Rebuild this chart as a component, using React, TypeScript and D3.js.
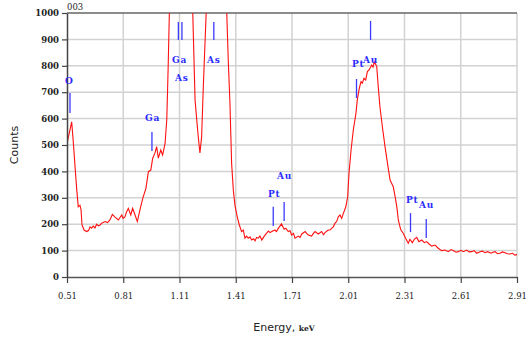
import React, { useEffect, useRef } from 'react'
import * as d3 from 'd3'

// spectrum (keV, counts); values above 1000 are clipped by the frame
const energy = [
  0.510, 0.535, 0.544, 0.553, 0.562, 0.570, 0.579, 0.585, 0.590, 0.601, 0.615, 0.625, 0.633, 0.641, 0.650, 0.659,
  0.668, 0.677, 0.686, 0.697, 0.713, 0.726, 0.739, 0.752, 0.766, 0.784, 0.802, 0.809, 0.819, 0.827, 0.837, 0.850,
  0.860, 0.873, 0.885, 0.899, 0.914, 0.931, 0.944, 0.957, 0.967, 0.979, 0.988, 0.997, 1.010, 1.020, 1.033, 1.042,
  1.046, 1.050, 1.059, 1.070, 1.113, 1.155, 1.180, 1.193, 1.202, 1.210, 1.216, 1.219, 1.228, 1.237, 1.246, 1.255,
  1.273, 1.315, 1.347, 1.362, 1.370, 1.379, 1.388, 1.397, 1.406, 1.418, 1.429, 1.441, 1.450, 1.459, 1.467, 1.477,
  1.486, 1.495, 1.505, 1.513, 1.521, 1.530, 1.539, 1.549, 1.558, 1.566, 1.584, 1.593, 1.602, 1.619, 1.627, 1.637,
  1.654, 1.668, 1.677, 1.690, 1.699, 1.708, 1.718, 1.726, 1.744, 1.753, 1.762, 1.780, 1.788, 1.797, 1.815, 1.825,
  1.833, 1.850, 1.868, 1.878, 1.886, 1.903, 1.913, 1.921, 1.930, 1.939, 1.948, 1.957, 1.966, 1.975, 1.984, 1.997,
  2.007, 2.014, 2.025, 2.037, 2.051, 2.058, 2.069, 2.078, 2.085, 2.094, 2.103, 2.112, 2.121, 2.135, 2.142, 2.149,
  2.162, 2.170, 2.179, 2.192, 2.206, 2.218, 2.233, 2.250, 2.263, 2.270, 2.277, 2.286, 2.291, 2.304, 2.316, 2.330,
  2.339, 2.352, 2.362, 2.375, 2.387, 2.402, 2.416, 2.428, 2.441, 2.455, 2.473, 2.490, 2.508, 2.526, 2.543, 2.558,
  2.570, 2.585, 2.597, 2.611, 2.624, 2.642, 2.654, 2.669, 2.681, 2.695, 2.713, 2.726, 2.739, 2.753, 2.771, 2.782,
  2.793, 2.806, 2.819, 2.833, 2.846, 2.859, 2.873, 2.886, 2.899, 2.910,
]
const counts = [
  505, 588, 507, 417, 330, 266, 272, 254, 197, 178, 172, 176, 190, 185, 193, 186,
  200, 194, 197, 205, 210, 206, 216, 237, 227, 216, 235, 222, 228, 245, 260, 235,
  260, 235, 210, 254, 298, 336, 399, 405, 450, 469, 494, 450, 481, 462, 506, 595,
  697, 810, 1100, 1300, 1500, 1300, 1020, 670, 595, 531, 490, 470, 531, 721, 886, 1050,
  1400, 1400, 1150, 1000, 822, 659, 430, 330, 270, 228, 197, 172, 178, 147, 155, 147,
  152, 140, 145, 137, 150, 147, 155, 140, 150, 159, 174, 168, 172, 178, 172, 184,
  201, 181, 185, 172, 176, 159, 165, 147, 155, 150, 163, 172, 165, 159, 155, 166,
  172, 163, 172, 160, 168, 178, 178, 184, 190, 203, 210, 228, 235, 222, 241, 266,
  304, 393, 481, 557, 620, 670, 715, 740, 734, 753, 746, 778, 784, 803, 795, 816,
  797, 721, 645, 569, 494, 437, 367, 342, 292, 260, 216, 190, 178, 165, 147, 128,
  143, 130, 143, 150, 134, 140, 130, 134, 125, 117, 121, 109, 100, 102, 96, 104,
  100, 94, 96, 101, 96, 102, 95, 96, 100, 90, 96, 98, 92, 96, 90, 94,
  96, 88, 90, 95, 92, 88, 87, 90, 83, 85,
]

const xTicks = [0.51, 0.81, 1.11, 1.41, 1.71, 2.01, 2.31, 2.61, 2.91]
const yTicks = [0, 100, 200, 300, 400, 500, 600, 700, 800, 900, 1000]

// element line markers: energy, top and bottom in counts
const markerEnergy = [0.526, 0.963, 1.104, 1.123, 1.293, 1.610, 1.668, 2.054, 2.129, 2.342, 2.426]
const markerTop = [697, 549, 966, 966, 966, 266, 284, 750, 970, 242, 220]
const markerBottom = [621, 477, 898, 898, 898, 193, 212, 678, 898, 170, 148]

// element labels: name, energy where text starts, counts at text middle
const labelText = ['O', 'Ga', 'Ga', 'As', 'As', 'Pt', 'Au', 'Pt', 'Au', 'Pt', 'Au']
const labelEnergy = [0.499, 0.926, 1.070, 1.086, 1.257, 1.582, 1.630, 2.030, 2.089, 2.318, 2.387]
const labelCounts = [746, 606, 822, 754, 822, 318, 386, 807, 822, 295, 273]

export default function App() {
  const svgRef = useRef<SVGSVGElement>(null)

  useEffect(() => {
    const width = 527, height = 337, m = { top: 13, right: 10, bottom: 60, left: 67 }
    const svg = d3.select(svgRef.current).attr('width', width).attr('height', height)
    svg.selectAll('*').remove()
    svg.append('rect').attr('width', width).attr('height', height).attr('fill', '#fff')

    const x = d3.scaleLinear().domain([0.51, 2.91]).range([m.left, width - m.right])
    const y = d3.scaleLinear().domain([0, 1000]).range([height - m.bottom, m.top])
    const tickFont = '"DejaVu Serif", serif'

    // grid
    svg.append('g').selectAll('line').data(yTicks.slice(1, -1)).join('line')
      .attr('x1', m.left).attr('x2', x(2.91)).attr('y1', d => y(d)).attr('y2', d => y(d))
      .attr('stroke', '#d2d2d2').attr('stroke-width', 1.5)
    svg.append('g').selectAll('line').data(xTicks.slice(1)).join('line')
      .attr('x1', d => x(d)).attr('x2', d => x(d)).attr('y1', y(1000)).attr('y2', y(0))
      .attr('stroke', '#d2d2d2').attr('stroke-width', 1.5)

    // top frame
    svg.append('line').attr('x1', m.left).attr('x2', x(2.91)).attr('y1', y(1000)).attr('y2', y(1000))
      .attr('stroke', '#666').attr('stroke-width', 1.5)

    // spectrum
    svg.append('clipPath').attr('id', 'plotclip').append('rect')
      .attr('x', m.left).attr('y', y(1000)).attr('width', x(2.91) - m.left).attr('height', y(0) - y(1000))
    const line = d3.line<number>().x((d, i) => x(energy[i])).y(d => y(d))
    svg.append('path').attr('d', line(counts)).attr('fill', 'none').attr('stroke', '#ff1010')
      .attr('stroke-width', 1.1).attr('clip-path', 'url(#plotclip)')

    // axes
    const ax = svg.append('g').attr('transform', `translate(0,${y(0)})`)
      .call(d3.axisBottom(x).tickValues(xTicks).tickFormat(d3.format('.2f')).tickSize(6).tickSizeOuter(0))
    ax.select('.domain').attr('stroke', '#555').attr('stroke-width', 1.5)
    ax.selectAll('.tick line').attr('stroke', '#444').attr('stroke-width', 1.2)
    ax.selectAll('.tick text').attr('font-family', tickFont).attr('font-size', 8.5).attr('dy', '1.5em').attr('fill', '#222')

    const ay = svg.append('g').attr('transform', `translate(${m.left},0)`)
      .call(d3.axisLeft(y).tickValues(yTicks).tickFormat(d3.format('d')).tickSize(5).tickSizeOuter(0))
    ay.select('.domain').attr('stroke', '#444').attr('stroke-width', 1.5)
    ay.selectAll('.tick line').attr('stroke', '#444').attr('stroke-width', 1.2)
    ay.selectAll('.tick text').attr('font-family', tickFont).attr('font-size', 8.5).attr('font-weight', 'bold').attr('fill', '#222')

    // element markers
    svg.append('g').selectAll('line').data(markerEnergy).join('line')
      .attr('x1', d => x(d)).attr('x2', d => x(d))
      .attr('y1', (d, i) => y(markerTop[i])).attr('y2', (d, i) => y(markerBottom[i]))
      .attr('stroke', '#3a3aff').attr('stroke-width', 1.3)
    svg.append('g').selectAll('text').data(labelText).join('text')
      .attr('x', (d, i) => x(labelEnergy[i])).attr('y', (d, i) => y(labelCounts[i]) + 3.5)
      .attr('font-family', tickFont).attr('font-size', 9).attr('font-weight', 'bold')
      .attr('letter-spacing', 0.8).attr('fill', '#2b2bff').text(d => d)

    // titles
    svg.append('text').attr('x', m.left).attr('y', 10).attr('font-family', tickFont).attr('font-size', 8.5)
      .attr('fill', '#222').text('003')
    svg.append('text').attr('transform', `translate(18,${(y(0) + y(1000)) / 2}) rotate(-90)`)
      .attr('text-anchor', 'middle').attr('font-family', '"DejaVu Sans", sans-serif').attr('font-size', 11)
      .attr('fill', '#222').text('Counts')
    const xl = svg.append('text').attr('x', 284).attr('y', 331).attr('text-anchor', 'middle')
      .attr('font-family', '"DejaVu Sans", sans-serif').attr('font-size', 11).attr('fill', '#222')
    xl.append('tspan').text('Energy, ')
    xl.append('tspan').attr('font-family', tickFont).attr('font-size', 7.5).attr('font-weight', 'bold').text('keV')
  }, [])

  return (
    <div style={{ position: 'absolute', left: 0, top: 0 }}>
      <svg ref={svgRef} style={{ display: 'block' }}></svg>
    </div>
  )
}
